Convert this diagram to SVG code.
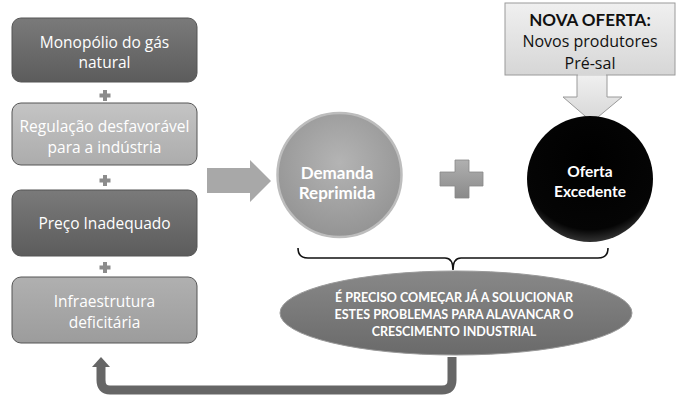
<svg xmlns="http://www.w3.org/2000/svg" width="682" height="403" viewBox="0 0 682 403">
<defs>
<linearGradient id="gDark" x1="0" y1="0" x2="0" y2="1"><stop offset="0" stop-color="#7a7a7a"/><stop offset="1" stop-color="#5c5c5c"/></linearGradient>
<linearGradient id="gLight" x1="0" y1="0" x2="0" y2="1"><stop offset="0" stop-color="#c4c4c4"/><stop offset="1" stop-color="#acacac"/></linearGradient>
<linearGradient id="gMid" x1="0" y1="0" x2="0" y2="1"><stop offset="0" stop-color="#b0b0b0"/><stop offset="1" stop-color="#9c9c9c"/></linearGradient>
<linearGradient id="gBox" x1="0" y1="0" x2="0" y2="1"><stop offset="0" stop-color="#f0f0f0"/><stop offset="1" stop-color="#d6d6d6"/></linearGradient>
<radialGradient id="gDem" cx="0.5" cy="0.4" r="0.6"><stop offset="0" stop-color="#b4b4b4"/><stop offset="1" stop-color="#949494"/></radialGradient>
<radialGradient id="gOf" cx="0.5" cy="0.35" r="0.65"><stop offset="0" stop-color="#000"/><stop offset="0.85" stop-color="#050505"/><stop offset="1" stop-color="#333"/></radialGradient>
<linearGradient id="gEll" x1="0" y1="0" x2="0" y2="1"><stop offset="0" stop-color="#888"/><stop offset="1" stop-color="#6a6a6a"/></linearGradient>
<linearGradient id="gPlus" x1="0" y1="0" x2="0" y2="1"><stop offset="0" stop-color="#b0b0b0"/><stop offset="1" stop-color="#8a8a8a"/></linearGradient>
</defs>
<style>
.box{stroke:#555;stroke-width:1}
.t{font-family:"Open Sans","DejaVu Sans",sans-serif;font-size:15.5px;fill:#fff;text-anchor:middle}
.tb{font-family:Lato,"Open Sans",sans-serif;font-weight:bold;fill:#fff;text-anchor:middle}
.tk{font-family:"Open Sans","DejaVu Sans",sans-serif;fill:#111;text-anchor:middle;font-size:16px}
.tkb{font-family:Lato,"Open Sans",sans-serif;font-weight:bold;fill:#111;text-anchor:middle;font-size:17px}
.sp{fill:#8c8c8c}
</style>
<rect width="682" height="403" fill="#fff"/>

<g id="box-monopolio">
<rect class="box" x="12" y="18" width="185" height="64" rx="9" fill="url(#gDark)"/>
<text class="t" x="104.5" y="48">Monopólio do gás</text>
<text class="t" x="104.5" y="68">natural</text>
</g>
<g id="box-regulacao">
<rect class="box" x="12" y="103" width="185" height="62" rx="9" fill="url(#gLight)" stroke="#888"/>
<text class="t" x="104.5" y="132">Regulação desfavorável</text>
<text class="t" x="104.5" y="153">para a indústria</text>
</g>
<g id="box-preco">
<rect class="box" x="12" y="190" width="185" height="66" rx="9" fill="url(#gDark)"/>
<text class="t" x="104.5" y="229">Preço Inadequado</text>
</g>
<g id="box-infra">
<rect class="box" x="12" y="277" width="185" height="66" rx="9" fill="url(#gMid)" stroke="#777"/>
<text class="t" x="104.5" y="307">Infraestrutura</text>
<text class="t" x="104.5" y="328">deficitária</text>
</g>

<g id="plus-small">
<path class="sp" d="M103,90h4v3.5h3.5v4h-3.5v3.5h-4v-3.5h-3.5v-4h3.5z"/>
<path class="sp" d="M103,175h4v3.5h3.5v4h-3.5v3.5h-4v-3.5h-3.5v-4h3.5z" fill="#a8a8a8"/>
<path class="sp" d="M103,262h4v3.5h3.5v4h-3.5v3.5h-4v-3.5h-3.5v-4h3.5z"/>
</g>

<g id="connectors">
<path d="M207,168H250V160L271,181L250,202V193H207Z" fill="#a8a8a8"/>
<path d="M440,172H455V160H469V172H483V186H469V198H455V186H440Z" fill="url(#gPlus)" stroke="#888" stroke-width="0.8"/>
<path d="M577,75V97H563L592,122L622,97H607V75" fill="url(#gBox)" stroke="#9a9a9a" stroke-width="1"/>
<path d="M298,248Q298,258 308,258H445Q453,258 453,270Q453,258 461,258H598Q608,258 608,248" fill="none" stroke="#111" stroke-width="1.6"/>
<path d="M452,357V380Q452,390 442,390H110Q101,390 101,380V366" fill="none" stroke="#666" stroke-width="9"/>
<path d="M92,367L101,357L110,367Z" fill="#666"/>
</g>

<g id="node-nova-oferta">
<rect x="505" y="3" width="170" height="72" fill="url(#gBox)" stroke="#9a9a9a"/>
<path d="M578,75H606" stroke="#e0e0e0" stroke-width="1.5"/>
<text class="tkb" x="590" y="26">NOVA OFERTA:</text>
<text class="tk" x="590" y="47">Novos produtores</text>
<text class="tk" x="590" y="69">Pré-sal</text>
</g>

<g id="node-demanda">
<circle cx="339.5" cy="175" r="62" fill="url(#gDem)" stroke="#bdbdbd" stroke-width="2.5"/>
<text class="tb" x="337" y="179" font-size="17">Demanda</text>
<text class="tb" x="337" y="199" font-size="17">Reprimida</text>
</g>

<g id="node-oferta">
<circle cx="590" cy="179" r="63" fill="url(#gOf)"/>
<text class="tb" x="590" y="177" font-size="15.5">Oferta</text>
<text class="tb" x="590" y="197" font-size="15.5">Excedente</text>
</g>

<g id="node-conclusao">
<ellipse cx="456" cy="313" rx="176" ry="42" fill="url(#gEll)" stroke="#999" stroke-width="1"/>
<text class="tb" x="454" y="302" font-size="12.5">É PRECISO COMEÇAR JÁ A SOLUCIONAR</text>
<text class="tb" x="454" y="319" font-size="12.5">ESTES PROBLEMAS PARA ALAVANCAR O</text>
<text class="tb" x="454" y="336" font-size="12.5">CRESCIMENTO INDUSTRIAL</text>
</g>
</svg>
